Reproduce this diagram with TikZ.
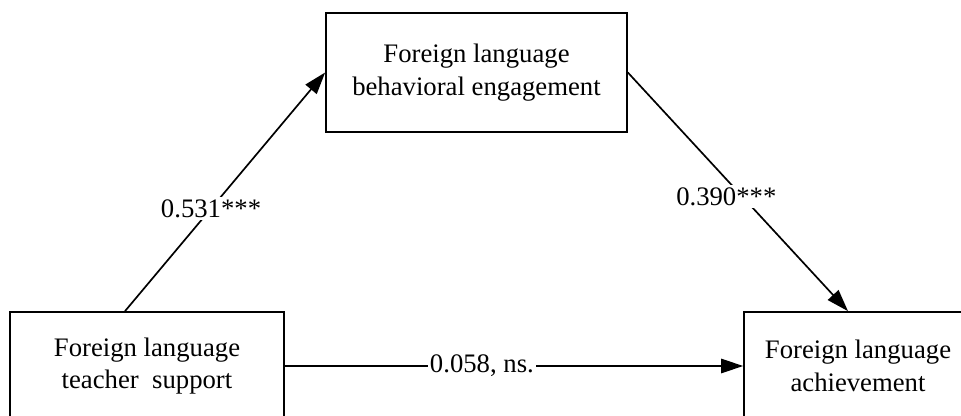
\documentclass[tikz,border=0pt]{standalone}
\usepackage{fontspec}
\setmainfont{Liberation Serif}
\usetikzlibrary{arrows.meta}

\begin{document}
\begin{tikzpicture}[
        VarBox/.style={draw,line width=1.2pt,align=center,inner sep=0pt,
                       font=\fontsize{19}{23}\selectfont},
        PathArrow/.style={line width=1.2pt,-{Triangle[length=0.55cm,width=0.36cm]}},
        PathLabel/.style={fill=white,inner sep=1.5pt,font=\fontsize{19}{23}\selectfont}
    ]
    \useasboundingbox (0,0) rectangle (24.025,10.4);

    \node[VarBox,minimum width=6.85cm,minimum height=2.7cm] (TeacherSupport) at (3.675,1.25)
        {Foreign language\\teacher~ support};
    \node[VarBox,minimum width=7.525cm,minimum height=2.975cm] (BehavEngagement) at (11.9125,8.5875)
        {Foreign language\\behavioral engagement};
    \node[VarBox,minimum width=5.7cm,minimum height=2.7cm] (Achievement) at (21.45,1.25)
        {Foreign language\\achievement};

    \draw[PathArrow] ([xshift=-0.55cm]TeacherSupport.north) -- (BehavEngagement.west)
        node[PathLabel,pos=0.43] {0.531***};
    \draw[PathArrow] (BehavEngagement.east) -- ([xshift=-0.25cm]Achievement.north)
        node[PathLabel,pos=0.52,xshift=-0.4cm] {0.390***};
    \draw[PathArrow] (TeacherSupport.east) -- (Achievement.west)
        node[PathLabel,pos=0.43] {0.058, ns.};
\end{tikzpicture}
\end{document}
